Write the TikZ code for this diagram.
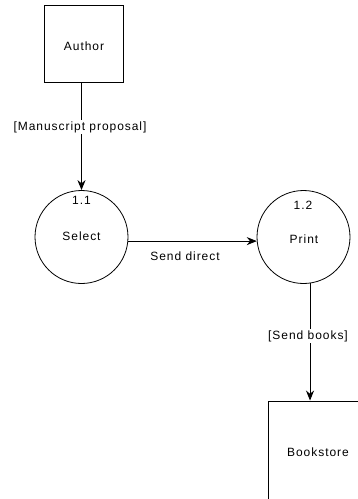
\documentclass[tikz,border=0pt]{standalone}
\usepackage{fontspec}
\setmainfont{Liberation Sans}[LetterSpace=8]
\usetikzlibrary{arrows.meta,calc}
\begin{document}
\begin{tikzpicture}[x=1pt,y=-1pt,
  every node/.style={font=\fontsize{12}{14}\selectfont},
  entity/.style={draw,line width=0.9pt,rectangle,inner sep=0pt},
  process/.style={draw,line width=0.8pt,circle,inner sep=0pt,minimum size=93pt},
  flow/.style={line width=0.9pt,-{Stealth[length=10pt,width=8pt]}},
  lbl/.style={fill=white,inner sep=1.5pt}]
\useasboundingbox (0,0) rectangle (358,499);
\clip (0,0) rectangle (358,499);
\node[entity,minimum width=79pt,minimum height=77pt] (author) at (83.5,43.5) {};
\node (authortxt) at (84,46) {Author};
\node[process] (c11) at (81.5,237) {};
\node (n11) at (81.5,200) {1.1};
\node (sel) at (81.5,236) {Select};
\node[process] (c12) at (303.5,237) {};
\node (n12) at (303,205) {1.2};
\node (prt) at (304,239) {Print};
\node[entity,minimum width=100pt,minimum height=99pt] (book) at (318,450.5) {};
\node (booktxt) at (318,452) {Bookstore};
\draw[flow] (author.south -| c11.north) -- (c11.north);
\node[lbl] (l1) at (80,127) {[Manuscript proposal]};
\draw[flow] (c11.-5) -- (c12.185);
\node (l2) at (185,256) {Send direct};
\draw[flow] (c12.-82) -- (c12.-82 |- book.north);
\node[lbl] (l3) at (308,336) {[Send books]};
\end{tikzpicture}
\end{document}
